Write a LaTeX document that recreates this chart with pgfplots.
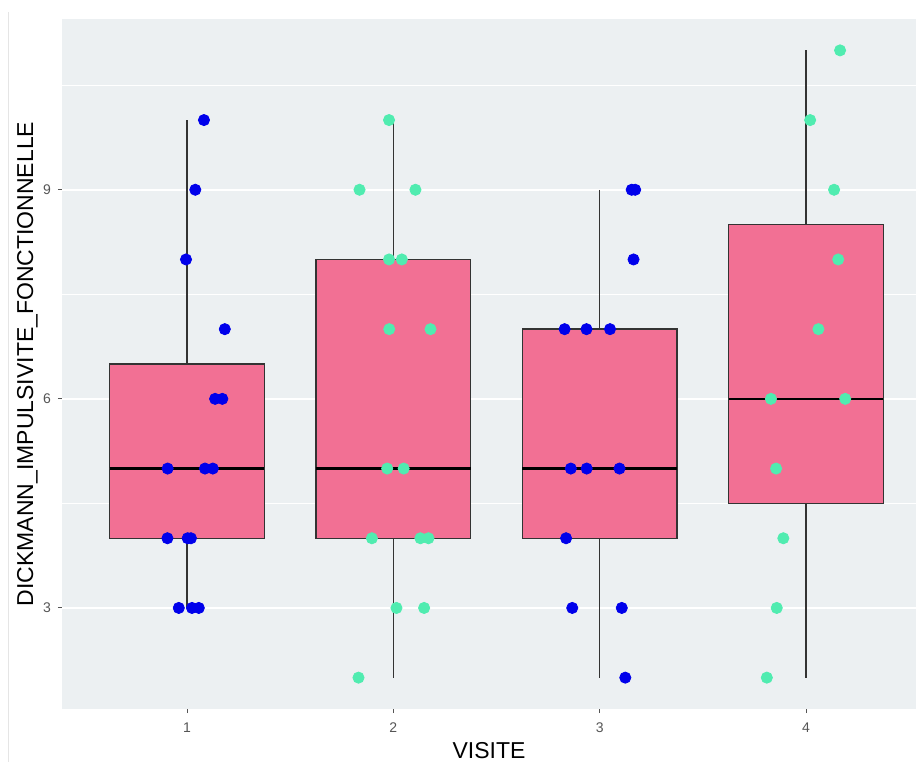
\documentclass[border=0pt]{standalone}
\usepackage{pgfplots}
\pgfplotsset{compat=1.18}
\usepgfplotslibrary{statistics}
\usepackage{fontspec}
\setmainfont{Liberation Sans}
\definecolor{panelbg}{RGB}{236,240,242}
\definecolor{boxpink}{RGB}{242,112,148}
\definecolor{ptblue}{RGB}{0,0,235}
\definecolor{ptaqua}{RGB}{80,236,176}
\definecolor{tickgray}{RGB}{85,85,85}
\begin{document}
\begin{tikzpicture}
\begin{axis}[
  at={(0,0)}, anchor=south west,
  scale only axis, width=427pt, height=345pt,
  xmin=0.394, xmax=4.533, ymin=1.55, ymax=11.45,
  axis x line*=bottom, axis y line*=left,
  axis line style={draw=none},
  axis background/.style={fill=panelbg},
  xtick={1,2,3,4}, ytick={3,6,9}, minor ytick={4.5,7.5,10.5},
  ymajorgrids, yminorgrids,
  major grid style={white, line width=1pt},
  minor grid style={white, line width=0.5pt},
  tick align=outside, major tick length=2pt, minor tick length=0pt,
  major tick style={tickgray, line width=0.5pt},
  ticklabel style={font=\fontsize{7}{8}\selectfont, text=tickgray},
  xticklabel style={yshift=-1.5pt},
  /pgf/number format/assume math mode=true,
  xlabel={VISITE}, ylabel={DICKMANN\_IMPULSIVITE\_FONCTIONNELLE},
  label style={font=\fontsize{11.5}{13}\selectfont, text=black},
  xlabel style={at={(axis description cs:0.5,-0.0603)}, anchor=center},
  ylabel style={at={(axis description cs:-0.0404,0.5)}, anchor=center, rotate=0},
  boxplot/draw direction=y,
]
% boxes
\addplot[boxplot prepared={draw position=1, median=5, lower quartile=4, upper quartile=6.5, lower whisker=3, upper whisker=10, box extend=0.75, whisker extend=0},
  draw=black!80, fill=boxpink, line width=0.7pt, boxplot/every median/.style={line width=1.3pt, draw=black}] coordinates {};
\addplot[boxplot prepared={draw position=2, median=5, lower quartile=4, upper quartile=8, lower whisker=2, upper whisker=10, box extend=0.75, whisker extend=0},
  draw=black!80, fill=boxpink, line width=0.7pt, boxplot/every median/.style={line width=1.3pt, draw=black}] coordinates {};
\addplot[boxplot prepared={draw position=3, median=5, lower quartile=4, upper quartile=7, lower whisker=2, upper whisker=9, box extend=0.75, whisker extend=0},
  draw=black!80, fill=boxpink, line width=0.7pt, boxplot/every median/.style={line width=1.3pt, draw=black}] coordinates {};
\addplot[boxplot prepared={draw position=4, median=6, lower quartile=4.5, upper quartile=8.5, lower whisker=2, upper whisker=11, box extend=0.75, whisker extend=0},
  draw=black!80, fill=boxpink, line width=0.7pt, boxplot/every median/.style={line width=1.3pt, draw=black}] coordinates {};
% jittered points, visite 1
\addplot[only marks, mark=*, mark size=2.8pt, mark options={draw=ptblue, fill=ptblue}] coordinates {
(1.082,10) (1.040,9) (0.995,8) (1.183,7) (1.136,6) (1.171,6)
(0.906,5) (1.087,5) (1.125,5) (0.905,4) (1.003,4) (1.019,4)
(0.960,3) (1.024,3) (1.057,3)};
% visite 2
\addplot[only marks, mark=*, mark size=2.8pt, mark options={draw=ptaqua, fill=ptaqua}] coordinates {
(1.979,10) (1.836,9) (2.107,9) (1.979,8) (2.041,8) (1.980,7) (2.180,7)
(1.970,5) (2.050,5) (1.896,4) (2.131,4) (2.170,4) (2.015,3) (2.149,3) (1.831,2)};
% visite 3
\addplot[only marks, mark=*, mark size=2.8pt, mark options={draw=ptblue, fill=ptblue}] coordinates {
(3.155,9) (3.172,9) (3.164,8) (2.830,7) (2.936,7) (3.050,7)
(2.860,5) (2.937,5) (3.096,5) (2.837,4) (2.867,3) (3.107,3) (3.124,2)};
% visite 4
\addplot[only marks, mark=*, mark size=2.8pt, mark options={draw=ptaqua, fill=ptaqua}] coordinates {
(4.165,11) (4.020,10) (4.136,9) (4.156,8) (4.060,7) (3.830,6) (4.190,6)
(3.855,5) (3.890,4) (3.858,3) (3.810,2)};
\end{axis}
\pgfresetboundingbox
\path[use as bounding box] (-31pt,-26.5pt) rectangle (427pt,354.5pt);
\draw[black!10, line width=0.5pt] (-26.5pt,-26.5pt) -- (-26.5pt,348.5pt);
\end{tikzpicture}
\end{document}
